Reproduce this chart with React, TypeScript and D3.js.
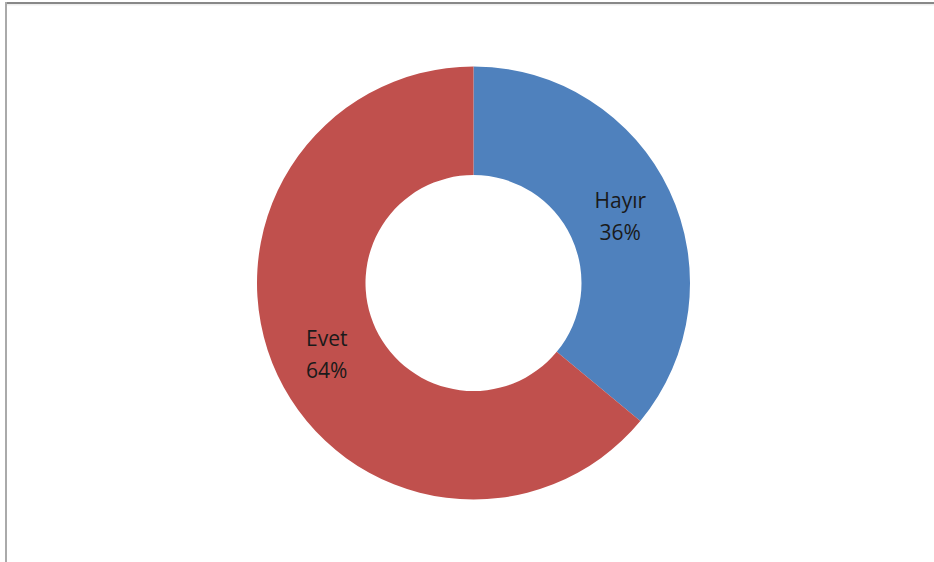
import React from "react";
import * as d3 from "d3";

const categories = ["Hayır", "Evet"];
const values = [36, 64];
const colors = ["#4F81BD", "#C0504D"];

export default function App() {
  const W = 934, H = 562;
  const cx = 473.5, cy = 283;
  const outerR = 216.5, innerR = 108;
  const pie = d3.pie<number>().sort(null).value((d) => d);
  const arcs = pie(values);
  const arc = d3.arc<d3.PieArcDatum<number>>().innerRadius(innerR).outerRadius(outerR);
  const total = d3.sum(values);
  return (
    <svg width={W} height={H} style={{ position: "absolute", left: 0, top: 0, background: "#fff" }}>
      <rect x={0} y={0} width={W} height={H} fill="#fff" />
      <rect x={5} y={2} width={W - 5} height={2} fill="#888" />
      <rect x={7} y={4} width={W - 7} height={1.5} fill="#eee" />
      <rect x={5} y={2} width={2} height={H - 2} fill="#aaa" />
      <g transform={`translate(${cx},${cy})`}>
        {arcs.map((a, i) => (
          <path key={i} d={arc(a) || ""} fill={colors[i]} stroke="none" />
        ))}
        {arcs.map((a, i) => {
          const [x, y] = arc.centroid(a);
          const pct = d3.format(".0%")(values[i] / total);
          return (
            <text key={"t" + i} x={x} y={y} textAnchor="middle" fontFamily="'Open Sans', sans-serif" fontSize={21} fill="#1a1a1a">
              <tspan x={x} dy={-6}>{categories[i]}</tspan>
              <tspan x={x} dy={32}>{pct}</tspan>
            </text>
          );
        })}
      </g>
    </svg>
  );
}
